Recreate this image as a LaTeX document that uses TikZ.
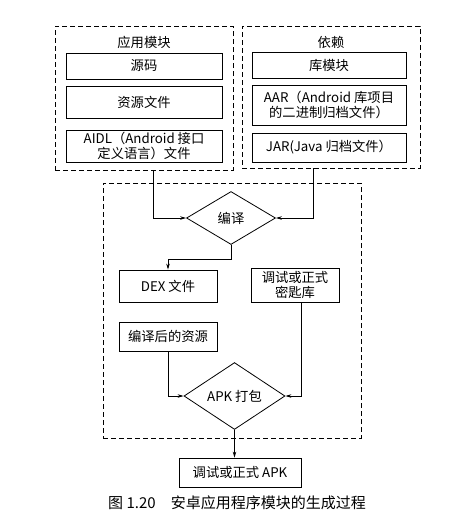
\documentclass[tikz,border=0pt]{standalone}
\usepackage{fontspec}
\setmainfont{Noto Sans CJK SC}
\usetikzlibrary{arrows.meta,shapes.geometric}

\begin{document}
\begin{tikzpicture}[x=1pt,y=-1pt,>=Stealth,font=\fontsize{13.3}{15.5}\selectfont,
    line width=.8pt,
    grp/.style={draw,dashed,dash pattern=on 5pt off 3pt,minimum width=#1},
    blk/.style={draw,align=center,inner sep=1pt},
    dec/.style={draw,diamond,inner sep=0pt},
    arr/.style={->,>={Stealth[length=6pt,width=3.5pt]}}]
  \useasboundingbox (0,0) rectangle (471,520);

  \node[grp=178pt,minimum height=144pt] (appgrp) at (144,98) {};
  \node[grp=178pt,minimum height=142pt] (depgrp) at (331,97) {};
  \node[grp=258pt,minimum height=255pt] (buildgrp) at (232,310.5) {};
  \node (apptitle) at (144,42) {应用模块};
  \node (deptitle) at (331,42) {依赖};

  \node[blk,minimum width=156pt,minimum height=26pt] (src) at (144,66) {源码};
  \node[blk,minimum width=156pt,minimum height=32pt] (res) at (144,102) {资源文件};
  \node[blk,minimum width=156pt,minimum height=32pt] (aidl) at (144,146) {AIDL（Android 接口\\定义语言）文件};
  \node[blk,minimum width=154pt,minimum height=26pt] (lib) at (329,65) {库模块};
  \node[blk,minimum width=154pt,minimum height=40pt] (aar) at (329,105) {AAR（Android 库项目\\的二进制归档文件）};
  \node[blk,minimum width=154pt,minimum height=29pt] (jar) at (329,147.5) {JAR(Java 归档文件）};

  \node[dec,minimum width=89pt,minimum height=53pt] (compile) at (231,218) {编译};
  \node[blk,minimum width=98pt,minimum height=32pt] (dex) at (168,286) {DEX 文件};
  \node[blk,minimum width=88pt,minimum height=34pt] (key) at (295,285) {调试或正式\\密匙库};
  \node[blk,minimum width=98pt,minimum height=29pt] (cres) at (168,336.5) {编译后的资源};
  \node[dec,minimum width=101pt,minimum height=54pt] (apk) at (234.5,396) {APK 打包};
  \node[blk,minimum width=122pt,minimum height=29pt] (out) at (240,472.5) {调试或正式 APK};
  \node[font=\fontsize{15}{18}\selectfont] (caption) at (237,503) {图 1.20\quad 安卓应用程序模块的生成过程};

  \draw[arr] ([xshift=9pt]appgrp.south) |- (compile.west);
  \draw[arr] ([xshift=-18pt]depgrp.south) |- (compile.east);
  \draw[arr] (compile.south) -- ++(0,14) -| (dex.north);
  \draw[arr] (cres.south) |- (apk.west);
  \draw[arr] ([xshift=6pt]key.south) |- (apk.east);
  \draw[arr] (apk.south) -- (apk.south |- out.north);
\end{tikzpicture}
\end{document}
